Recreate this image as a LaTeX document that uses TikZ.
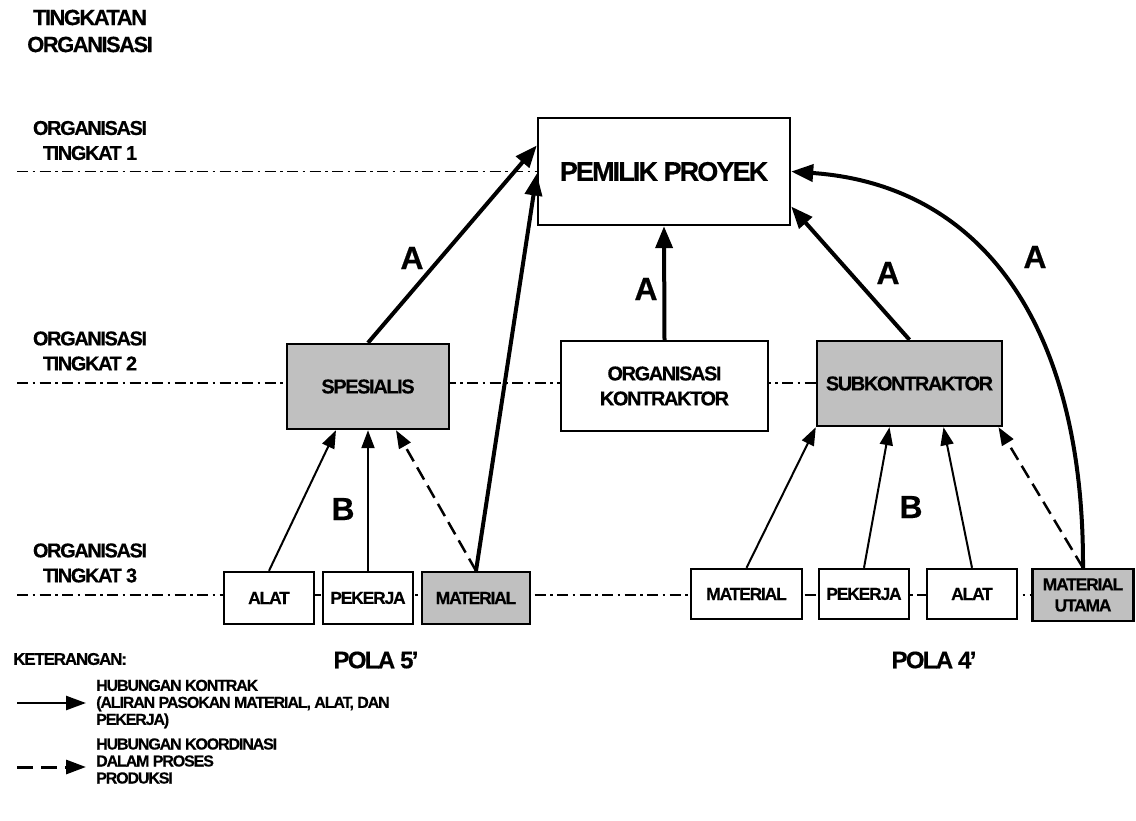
\documentclass[tikz,border=0pt]{standalone}
\usepackage{fontspec}
\setmainfont{Liberation Sans}[LetterSpace=-7, BoldFeatures={FakeBold=0.4}]
\usetikzlibrary{arrows.meta,calc,backgrounds}
\definecolor{boxgray}{HTML}{C0C0C0}
\newcommand\fsz[2]{\fontsize{#1}{#2}\selectfont\bfseries}
\begin{document}
\begin{tikzpicture}[x=1pt,y=-1pt,
  box/.style={draw=black, line width=2.4pt, fill=white, inner sep=0pt, align=center, font=\fsz{17.5}{21}},
  graybox/.style={box, fill=boxgray},
  levelline/.style={line width=1.8pt, dash pattern=on 11pt off 4.5pt on 2.5pt off 4.5pt},
  thickarrow/.style={line width=4pt, -{Triangle[length=22pt,width=17pt]}},
  thinarrow/.style={line width=2pt, -{Triangle[length=18pt,width=13pt]}},
  coordarrow/.style={line width=2.5pt, dash pattern=on 14pt off 7pt, -{Triangle[length=18pt,width=13pt]}},
  legsolid/.style={line width=2.5pt, -{Triangle[length=20pt,width=14pt]}},
  legdashed/.style={line width=3pt, dash pattern=on 16pt off 8pt, -{Triangle[length=20pt,width=14pt]}},
  lvltext/.style={align=center, inner sep=0pt, font=\fsz{20}{25}},
  bigletter/.style={inner sep=0pt, font=\fsz{32}{32}},
  plain/.style={inner sep=0pt},
]
\useasboundingbox (0,0) rectangle (1136,820);

% level titles
\node[lvltext, font=\fsz{22}{27}] (title) at (90,31) {TINGKATAN\\ORGANISASI};
\node[lvltext] (lv1) at (90,140.5) {ORGANISASI\\TINGKAT 1};
\node[lvltext] (lv2) at (90,351) {ORGANISASI\\TINGKAT 2};
\node[lvltext] (lv3) at (90,563) {ORGANISASI\\TINGKAT 3};

% main boxes
\node[box, minimum width=252pt, minimum height=107pt, font=\fsz{27}{30}] (pemilik) at (664,171.5) {PEMILIK PROYEK};
\node[graybox, minimum width=162pt, minimum height=85pt, font=\fsz{20}{22}] (spesialis) at (368,386.5) {SPESIALIS};
\node[box, minimum width=207pt, minimum height=90pt, font=\fsz{20}{25}] (kontraktor) at (664.5,386) {ORGANISASI\\KONTRAKTOR};
\node[graybox, minimum width=185pt, minimum height=85pt, font=\fsz{20}{22}] (subk) at (909.5,383.5) {SUBKONTRAKTOR};

% level 3 boxes
\node[box, minimum width=90pt, minimum height=52pt] (alatL) at (269,598) {ALAT};
\node[box, minimum width=90pt, minimum height=52pt] (pekerjaL) at (368,598) {PEKERJA};
\node[graybox, minimum width=108pt, minimum height=52pt] (materialL) at (476,598) {MATERIAL};
\node[box, minimum width=111pt, minimum height=50pt] (materialR) at (746.5,594) {MATERIAL};
\node[box, minimum width=90pt, minimum height=50pt] (pekerjaR) at (864,594) {PEKERJA};
\node[box, minimum width=90pt, minimum height=50pt] (alatR) at (972,594) {ALAT};
\node[graybox, minimum width=101pt, minimum height=52pt] (utama) at (1083,595) {MATERIAL\\UTAMA};

% level lines
\coordinate (l1) at (17,171.5);
\coordinate (l2) at (17,383);
\coordinate (l3) at (17,595);
\begin{pgfonlayer}{background}
\draw[levelline] (l1) -- (l1 -| pemilik.west);
\draw[levelline] (l2) -- (l2 -| subk.east);
\draw[levelline] (l3) -- (l3 -| utama.west);
\end{pgfonlayer}

% A connectors
\draw[thickarrow] (spesialis.north) -- ([yshift=26pt]pemilik.west);
\draw[thickarrow] (materialL.north) -- ([yshift=-2pt]pemilik.west);
\draw[thickarrow] (kontraktor.north) -- (pemilik.south);
\draw[thickarrow] (subk.north) -- ([yshift=-35pt]pemilik.east);
\draw[thickarrow] (utama.north) .. controls (1084,330) and (985,185) .. (pemilik.east);

% B connectors
\draw[thinarrow] (alatL.north) -- ([xshift=-32pt]spesialis.south);
\draw[thinarrow] (pekerjaL.north) -- (spesialis.south);
\draw[coordarrow] (materialL.north) -- ([xshift=28pt]spesialis.south);
\draw[thinarrow] (materialR.north) -- (subk.south west);
\draw[thinarrow] (pekerjaR.north) -- ([xshift=-20pt]subk.south);
\draw[thinarrow] (alatR.north) -- ([xshift=34pt]subk.south);
\draw[coordarrow] (utama.north) -- ([xshift=89pt]subk.south);

% letters
\node[bigletter] (a1) at (412,258) {A};
\node[bigletter] (a2) at (646,289) {A};
\node[bigletter] (a3) at (888,273) {A};
\node[bigletter] (a4) at (1035,257) {A};
\node[bigletter] (b1) at (343,509) {B};
\node[bigletter] (b2) at (911,507) {B};

% pattern names
\node[plain, font=\fsz{24}{26}] (pola5) at (376,660) {POLA 5’};
\node[plain, font=\fsz{24}{26}] (pola4) at (934,660) {POLA 4’};

% legend
\node[plain, anchor=west, font=\fsz{17}{18}] (ket) at (13,659) {KETERANGAN:};
\node[plain, anchor=west, align=left, font=\fsz{16}{17}] (leg1) at (96,704) {HUBUNGAN KONTRAK\\(ALIRAN PASOKAN MATERIAL, ALAT, DAN\\PEKERJA)};
\node[plain, anchor=west, align=left, font=\fsz{16}{17}] (leg2) at (96,761) {HUBUNGAN KOORDINASI\\DALAM PROSES\\PRODUKSI};
\coordinate (s1) at (17,703);
\coordinate (e1) at (86,703);
\coordinate (s2) at (17,767);
\coordinate (e2) at (86,767);
\draw[legsolid] (s1) -- (e1);
\draw[legdashed] (s2) -- (e2);
\end{tikzpicture}
\end{document}
